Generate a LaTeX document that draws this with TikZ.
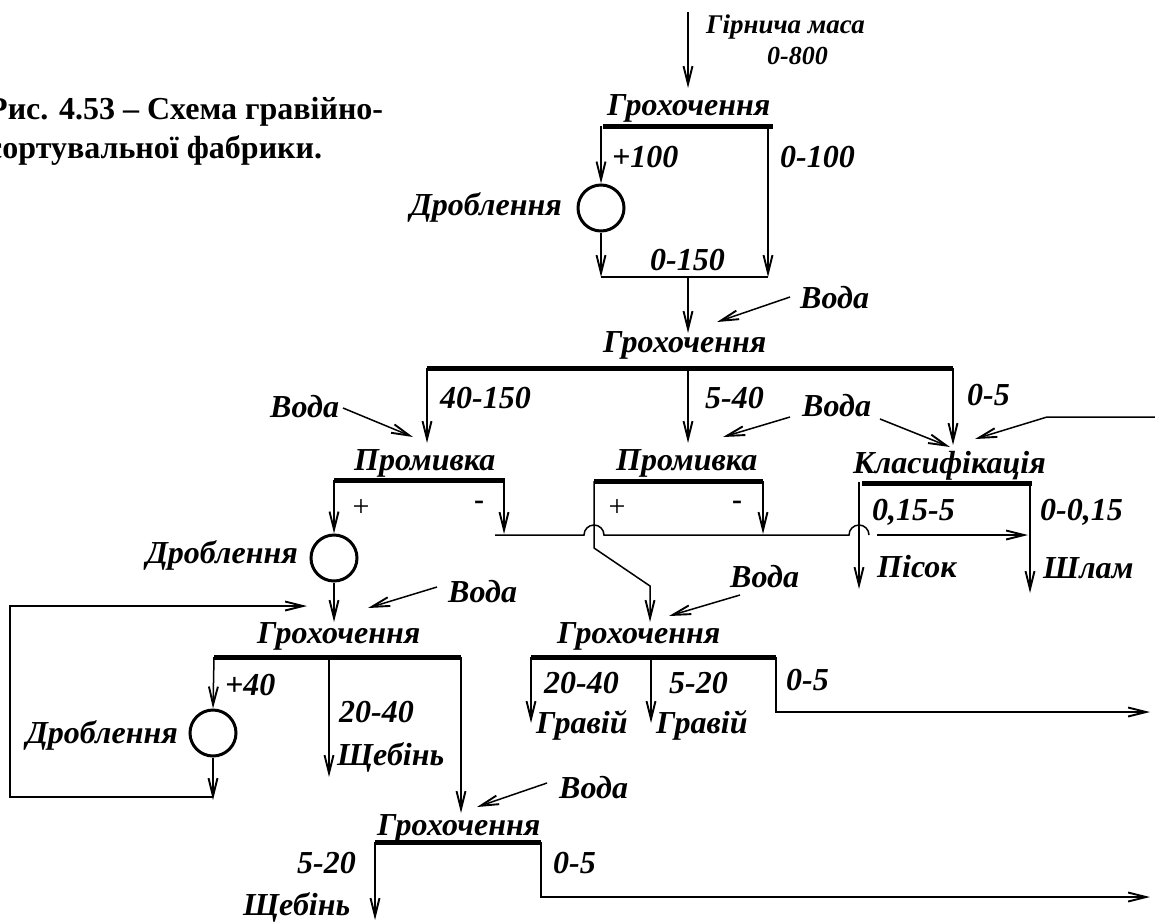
\documentclass[tikz,border=0pt]{standalone}
\usepackage{fontspec}
\setmainfont{Liberation Serif}
\usetikzlibrary{arrows.meta}
\tikzset{
 lbl/.style={anchor=base west, inner sep=0pt, font=\fontsize{32}{34}\selectfont\bfseries\itshape},
 lble/.style={lbl, anchor=base east},
 sml/.style={lbl, font=\fontsize{26}{28}\selectfont\bfseries\itshape},
 capt/.style={anchor=base west, inner sep=0pt, font=\fontsize{32}{34}\selectfont\bfseries},
 sign/.style={inner sep=0pt, font=\fontsize{30}{32}\selectfont},
 minus/.style={inner sep=0pt, font=\fontsize{30}{32}\selectfont\bfseries},
 barline/.style={line width=5pt},
 flowline/.style={line width=1.5pt},
 arr/.style={flowline, -{Straight Barb[length=18pt,width=9pt,line width=1.9pt]}},
 crusher/.style={circle, draw, line width=3pt, minimum size=46pt, inner sep=0pt},
}
\begin{document}
\begin{tikzpicture}[x=1pt,y=-1pt]
\useasboundingbox (0,0) rectangle (1155,921);
\clip (0,0) rectangle (1155,921);
% caption
\node[capt] (cap1) at (-12,119) {Рис. 4.53 – Схема гравійно-};
\node[capt] (cap2) at (-12,158) {сортувальної фабрики.};

% ---------- screen 1
\coordinate (feed) at (688,12);
\coordinate (g1) at (688,88);
\node[lbl, font=\fontsize{27}{29}\selectfont\bfseries\itshape] (t-feed) at (706,33) {Гірнича маса};
\node[sml] (t-800) at (767,64) {0-800};
\draw[arr] (feed) -- (g1);
\node[lbl] (t-g1) at (607,115) {Грохочення};
\coordinate (g1L) at (603,126); \coordinate (g1R) at (773,126);
\draw[barline] (g1L) -- (g1R);
\node[crusher] (c1) at (601,208) {};
\node[lble] (t-c1) at (562,215) {Дроблення};
\node[lbl] (t-100) at (612,167) {+100};
\node[lbl] (t-0100) at (780,167) {0-100};
\node[lbl] (t-0150) at (650,270) {0-150};
\draw[arr] (601,126) -- (c1.north);
\coordinate (j1L) at (601,277); \coordinate (j1R) at (768,277); \coordinate (j1M) at (688,277);
\draw[arr] (c1.south) -- (j1L);
\draw[arr] (768,126) -- (j1R);
\draw[flowline] (j1L) -- (j1R);

% ---------- screen 2
\coordinate (g2in) at (688,333);
\draw[arr] (j1M) -- (g2in);
\node[lbl] (t-w1) at (800,308) {Вода};
\coordinate (w1s) at (790,297); \coordinate (w1e) at (717,322);
\draw[arr] (w1s) -- (w1e);
\node[lbl] (t-g2) at (603,352) {Грохочення};
\coordinate (g2L) at (427,368); \coordinate (g2R) at (953,368); \coordinate (g2M) at (688,368);
\draw[barline] (g2L) -- (g2R);
\node[lbl] (t-40150) at (440,408) {40-150};
\node[lbl] (t-540) at (705,408) {5-40};
\node[lbl] (t-05a) at (967,405) {0-5};
\coordinate (p1in) at (427,443); \coordinate (p2in) at (688,443); \coordinate (k1in) at (953,445);
\draw[arr] (g2L) -- (p1in);
\draw[arr] (g2M) -- (p2in);
\draw[arr] (g2R) -- (k1in);

% water to wash 1
\node[lbl] (t-w2) at (270,417) {Вода};
\draw[arr] (343,408) -- (413,437);
% water to wash 2 and classifier
\node[lbl] (t-w3) at (802,416) {Вода};
\draw[arr] (790,417) -- (723,437);
\draw[arr] (880,419) -- (950,447);
% return feed to classifier
\coordinate (rf1) at (1155,417); \coordinate (rf2) at (1047,417); \coordinate (rf3) at (975,439);
\draw[arr] (rf1) -- (rf2) -- (rf3);

% ---------- wash 1
\node[lbl] (t-p1) at (354,470) {Промивка};
\coordinate (p1L) at (334,480); \coordinate (p1R) at (505,480);
\draw[barline] (p1L) -- (p1R);
\node[sign] (s-p1) at (361,508) {+};
\node[minus] (m-p1) at (479,505) {-};
\node[crusher] (c2) at (334,558) {};
\node[lble] (t-c2) at (298,563) {Дроблення};
\draw[arr] (334,480) -- (c2.north);
\draw[arr] (504,480) -- (504,534);

% ---------- wash 2
\node[lbl] (t-p2) at (616,470) {Промивка};
\coordinate (p2L) at (594,481); \coordinate (p2R) at (763,481);
\draw[barline] (p2L) -- (p2R);
\node[sign] (s-p2) at (617,508) {+};
\node[minus] (m-p2) at (737,505) {-};
\draw[arr] (763,481) -- (763,534);
\coordinate (p2a) at (594,548); \coordinate (p2b) at (650,586); \coordinate (g3in) at (650,622);
\draw[arr] (594,481) -- (p2a) -- (p2b) -- (g3in);

% fines collector line with jumps (arcs bulge upward)
\draw[flowline] (495,535) -- (584,535) arc[start angle=180,end angle=360,radius=10] -- (849,535) arc[start angle=180,end angle=360,radius=10];
\draw[arr] (877,535) -- (1028,535);

% ---------- classifier
\node[lbl] (t-k) at (853,473) {Класифікація};
\coordinate (kL) at (862,483); \coordinate (kR) at (1032,483);
\draw[barline] (kL) -- (kR);
\draw[arr] (859,482) -- (859,589);
\draw[arr] (1030,483) -- (1030,593);
\node[lbl] (t-015) at (872,520) {0,15-5};
\node[lbl] (t-0015) at (1040,520) {0-0,15};
\node[lbl] (t-sand) at (877,577) {Пісок};
\node[lbl] (t-slime) at (1043,578) {Шлам};

% ---------- screen 4 (left)
\coordinate (g4in) at (334,622);
\draw[arr] (c2.south) -- (g4in);
\node[lbl] (t-w4) at (448,602) {Вода};
\draw[arr] (437,587) -- (368,608);
\node[lbl] (t-g4) at (257,643) {Грохочення};
\coordinate (g4L) at (214,657); \coordinate (g4R) at (461,657);
\draw[barline] (g4L) -- (g4R);
\node[crusher] (c3) at (213,733) {};
\node[lble] (t-c3) at (178,743) {Дроблення};
\node[lbl] (t-40) at (225,695) {+40};
\draw[arr] (214,657) -- (c3.north);
\coordinate (l1) at (213,800); \coordinate (l2) at (10,797); \coordinate (l3) at (10,606); \coordinate (l4) at (307,606);
\draw[arr] (c3.south) -- (l1);
\draw[arr] (213,797) -- (l2) -- (l3) -- (l4);
\draw[arr] (329,657) -- (329,777);
\node[lbl] (t-2040a) at (339,722) {20-40};
\node[lbl] (t-sch1) at (337,765) {Щебінь};
\coordinate (g5in) at (461,813);
\draw[arr] (g4R) -- (g5in);

% ---------- screen 3 (middle)
\node[lbl] (t-w5) at (730,587) {Вода};
\draw[arr] (740,595) -- (669,616);
\node[lbl] (t-g3) at (557,643) {Грохочення};
\coordinate (g3L) at (531,657); \coordinate (g3R) at (776,657); \coordinate (g3M) at (651,657);
\draw[barline] (g3L) -- (g3R);
\draw[arr] (g3L) -- (531,723);
\draw[arr] (g3M) -- (651,723);
\coordinate (o3a) at (776,712); \coordinate (o3b) at (1150,712);
\draw[arr] (g3R) -- (o3a) -- (o3b);
\node[lbl] (t-2040b) at (544,693) {20-40};
\node[lbl] (t-520a) at (669,693) {5-20};
\node[lbl] (t-05b) at (786,690) {0-5};
\node[lbl] (t-grav1) at (536,733) {Гравій};
\node[lbl] (t-grav2) at (656,733) {Гравій};

% ---------- screen 5 (bottom)
\node[lbl] (t-w6) at (559,798) {Вода};
\draw[arr] (547,783) -- (477,807);
\node[lbl] (t-g5) at (377,835) {Грохочення};
\coordinate (g5L) at (375,842); \coordinate (g5R) at (541,842);
\draw[barline] (g5L) -- (g5R);
\draw[arr] (g5L) -- (375,920);
\coordinate (o5a) at (541,897); \coordinate (o5b) at (1150,897);
\draw[arr] (g5R) -- (o5a) -- (o5b);
\node[lbl] (t-520b) at (297,873) {5-20};
\node[lbl] (t-05c) at (553,873) {0-5};
\node[lbl] (t-sch2) at (243,915) {Щебінь};
\end{tikzpicture}
\end{document}
